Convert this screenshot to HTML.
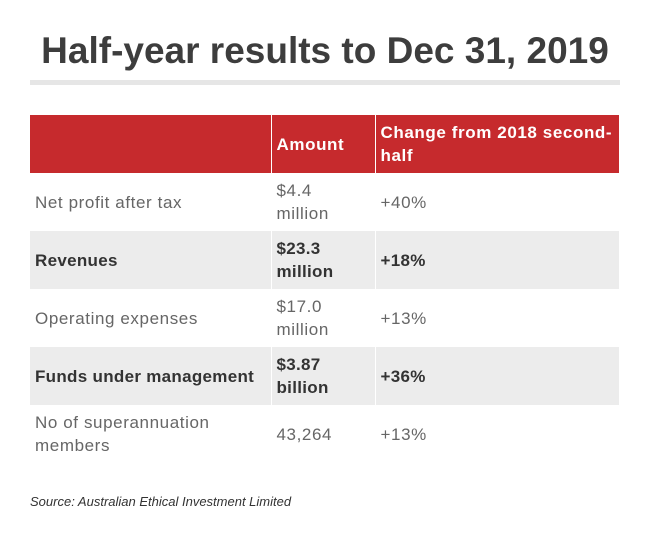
<!DOCTYPE html>
<html><head><style>
body{margin:0;width:650px;height:543px;background:#fff;font-family:"Liberation Sans",sans-serif;position:relative;overflow:hidden}
h1{position:absolute;top:28px;left:0;width:650px;text-align:center;margin:0;font-size:37px;font-weight:bold;color:#3d3d3d;line-height:46px}
.bar{position:absolute;left:30px;top:80px;width:590px;height:5px;background:#e6e6e6}
table{position:absolute;left:30px;top:115px;width:589px;border-collapse:collapse;font-size:17px;letter-spacing:0.6px;table-layout:fixed}
td{padding:0 5px;vertical-align:middle;line-height:23px;color:#666;height:58px;box-sizing:border-box;white-space:nowrap;overflow:hidden}
td+td{border-left:1px solid #fff}
tr.h td{background:#c62a2d;color:#fff;font-weight:bold}
tr.g td{background:#ececec;color:#333;font-weight:bold;letter-spacing:0.3px}
.src{position:absolute;left:30px;top:494px;font-size:13px;font-style:italic;color:#333}
</style></head><body>
<h1>Half-year results to Dec 31, 2019</h1>
<div class="bar"></div>
<table>
<colgroup><col style="width:241px"><col style="width:104px"><col></colgroup>
<tr class="h"><td></td><td>Amount</td><td>Change from 2018 second-<br>half</td></tr>
<tr><td>Net profit after tax</td><td>$4.4<br>million</td><td>+40%</td></tr>
<tr class="g"><td>Revenues</td><td>$23.3<br>million</td><td>+18%</td></tr>
<tr><td>Operating expenses</td><td>$17.0<br>million</td><td>+13%</td></tr>
<tr class="g"><td>Funds under management</td><td>$3.87<br>billion</td><td>+36%</td></tr>
<tr><td>No of superannuation<br>members</td><td>43,264</td><td>+13%</td></tr>
</table>
<div class="src">Source: Australian Ethical Investment Limited</div>
</body></html>
